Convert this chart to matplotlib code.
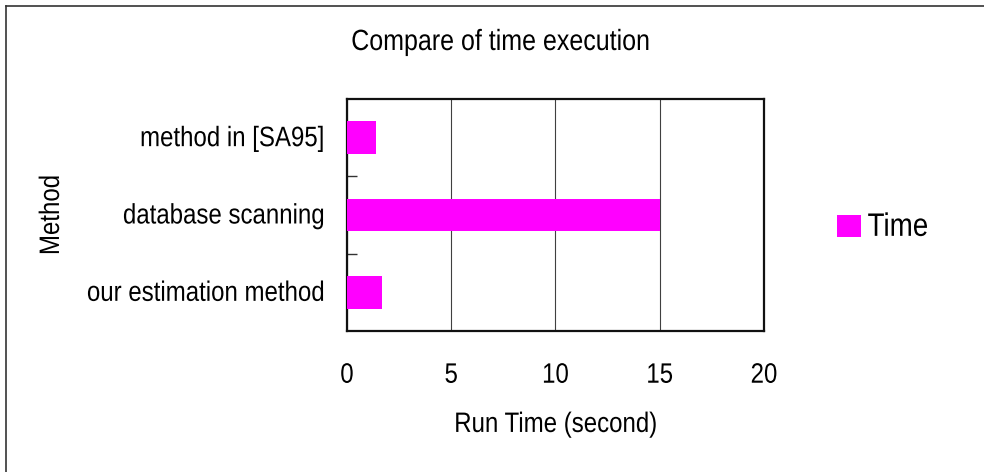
import matplotlib
matplotlib.use("Agg")
import matplotlib.pyplot as plt
from matplotlib.lines import Line2D
from matplotlib.patheffects import AbstractPathEffect
from matplotlib.transforms import Affine2D

# Data
methods = ["our estimation method", "database scanning", "method in [SA95]"]
run_time = [1.7, 15.0, 1.4]
series_name = "Time"
x_ticks = [0, 5, 10, 15, 20]

plt.rcParams["font.family"] = ["Liberation Sans", "DejaVu Sans"]


class TallText(AbstractPathEffect):
    """Draw glyphs slightly taller than normal, stretched about the baseline."""

    def __init__(self, sy=1.17):
        super().__init__()
        self.sy = sy

    def draw_path(self, renderer, gc, tpath, affine, rgbFace=None):
        renderer.draw_path(gc, tpath, Affine2D().scale(1.0, self.sy) + affine, rgbFace)


fig = plt.figure(figsize=(9.84, 4.72), dpi=100)
fig.patch.set_facecolor("white")
ax = fig.add_axes([0.3526, 0.2987, 0.4238, 0.4916])

ypos = list(range(len(methods)))
ax.barh(ypos, run_time, height=0.42, color="#FF00FF", label=series_name, zorder=3)

ax.set_xlim(0, 20)
ax.set_ylim(-0.5, len(methods) - 0.5)
ax.set_xticks(x_ticks)
ax.set_xticklabels([str(v) for v in x_ticks])
ax.set_yticks(ypos)
ax.set_yticklabels(methods)

# vertical gridlines only
ax.grid(axis="x", color="#404040", linewidth=0.8, zorder=1)
ax.set_axisbelow(True)

# tick styling
ax.tick_params(axis="x", length=0, pad=25, labelsize=17.3, colors="black")
ax.tick_params(axis="y", which="major", length=0, pad=16.5, labelsize=17.3)
ax.set_yticks([0.5, 1.5], minor=True)
ax.tick_params(axis="y", which="minor", direction="in", length=7, width=1, color="#333333")

for sp in ax.spines.values():
    sp.set_linewidth(1.6)
    sp.set_color("#111111")

xl = ax.set_xlabel("Run Time (second)", fontsize=17.3, va="baseline")
ax.xaxis.set_label_coords(0.5, -0.435)
yl = ax.set_ylabel("Method", fontsize=17.3, va="center")
ax.yaxis.set_label_coords(-0.705, 0.5)

title = fig.suptitle("Compare of time execution", x=0.5086, y=1 - 50 / 472,
                     va="baseline", fontsize=18)

leg = ax.legend(loc="center left", bbox_to_anchor=(837 / 984, 1 - 228.5 / 472),
                bbox_transform=fig.transFigure, frameon=False, fontsize=20,
                handlelength=0.85, handleheight=0.85, handletextpad=0.25,
                borderpad=0, borderaxespad=0)

tall = [TallText(1.17)]
for t in [xl, yl, title] + ax.get_xticklabels() + ax.get_yticklabels() + leg.get_texts():
    t.set_path_effects(tall)

# chart-area border (top and left edges)
fig.add_artist(Line2D([5.5 / 984, 1.0], [1 - 5.5 / 472] * 2, transform=fig.transFigure,
                      color="#333333", linewidth=1.2))
fig.add_artist(Line2D([5.5 / 984] * 2, [0.0, 1 - 5.5 / 472], transform=fig.transFigure,
                      color="#333333", linewidth=1.2))

fig.savefig("out.png", dpi=100, facecolor="white")
